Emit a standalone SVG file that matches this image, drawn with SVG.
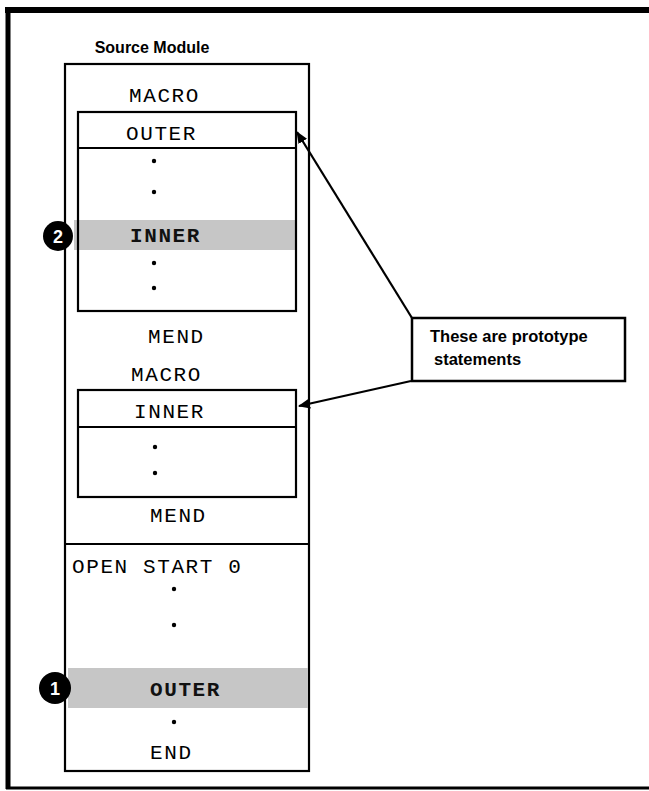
<svg xmlns="http://www.w3.org/2000/svg" width="649" height="791" viewBox="0 0 649 791">
<style>
.frame{stroke:#000;fill:none}
.box{fill:none;stroke:#000;stroke-width:2.2}
.mono{font-family:"Liberation Mono","DejaVu Sans Mono",monospace;font-size:21px;letter-spacing:1.6px;fill:#000}
.bold{font-weight:bold;fill:#111}
.dot{fill:#000}
.band{fill:#c6c6c6}
.title{font-family:"Liberation Sans",Arial,sans-serif;font-weight:bold;font-size:16px;fill:#000}
.note{font-family:"Liberation Sans",Arial,sans-serif;font-weight:bold;font-size:16.5px;fill:#000}
.badge{fill:#000}
.badgeText{font-family:"Liberation Sans",Arial,sans-serif;font-weight:bold;font-size:18px;fill:#fff;text-anchor:middle}
.conn{stroke:#000;stroke-width:2.2;fill:none}
</style>
<defs>
<marker id="arr" viewBox="0 0 12 10" refX="11" refY="5" markerWidth="12" markerHeight="10" markerUnits="userSpaceOnUse" orient="auto">
<path d="M0,0 L12,5 L0,10 Z" fill="#000"/>
</marker>
</defs>
<rect width="649" height="791" fill="#fff"/>
<g id="frame">
<line class="frame" x1="5" y1="10" x2="649" y2="10" stroke-width="6"/>
<line class="frame" x1="8" y1="8" x2="8" y2="789" stroke-width="5"/>
<line class="frame" x1="6" y1="788" x2="649" y2="788" stroke-width="3"/>
</g>
<g id="title"><text class="title" x="152" y="53" text-anchor="middle">Source Module</text></g>
<g id="source-module">
<rect class="box" x="65" y="64" width="244" height="707"/>
<line class="box" x1="65" y1="544" x2="309" y2="544"/>
</g>
<g id="macro-outer">
<text class="mono" x="129" y="102">MACRO</text>
<rect class="band" x="74" y="220" width="222" height="30"/>
<rect class="box" x="78" y="112" width="218" height="199"/>
<line class="box" x1="78" y1="148" x2="296" y2="148"/>
<text class="mono" x="126" y="140">OUTER</text>
<circle class="dot" cx="154" cy="161" r="2.2"/>
<circle class="dot" cx="154" cy="192" r="2.2"/>
<text class="mono bold" x="130" y="242">INNER</text>
<circle class="dot" cx="154" cy="263" r="2.2"/>
<circle class="dot" cx="154" cy="288" r="2.2"/>
<text class="mono" x="148" y="343">MEND</text>
</g>
<g id="macro-inner">
<text class="mono" x="131" y="381">MACRO</text>
<rect class="box" x="78" y="390" width="218" height="107"/>
<line class="box" x1="78" y1="427" x2="296" y2="427"/>
<text class="mono" x="134" y="418">INNER</text>
<circle class="dot" cx="155" cy="447" r="2.2"/>
<circle class="dot" cx="155" cy="473" r="2.2"/>
<text class="mono" x="150" y="522">MEND</text>
</g>
<g id="main-program">
<text class="mono" x="72" y="573">OPEN START 0</text>
<circle class="dot" cx="174" cy="589" r="2.2"/>
<circle class="dot" cx="174" cy="625" r="2.2"/>
<rect class="band" x="68" y="668" width="240" height="40"/>
<text class="mono bold" x="150" y="696">OUTER</text>
<circle class="dot" cx="174" cy="722" r="2.2"/>
<text class="mono" x="150" y="759">END</text>
</g>
<g id="badge-2">
<circle class="badge" cx="58" cy="236" r="15"/>
<text class="badgeText" x="58" y="243">2</text>
</g>
<g id="badge-1">
<circle class="badge" cx="55" cy="688" r="16"/>
<text class="badgeText" x="55" y="695">1</text>
</g>
<g id="callout">
<rect x="412" y="318" width="213" height="63" fill="#fff" stroke="#000" stroke-width="2.5"/>
<text class="note" x="430" y="342">These are prototype</text>
<text class="note" x="434" y="365">statements</text>
</g>
<g id="connectors">
<line class="conn" x1="412" y1="318" x2="297" y2="132" marker-end="url(#arr)"/>
<line class="conn" x1="411" y1="381" x2="299" y2="406" marker-end="url(#arr)"/>
</g>
</svg>
